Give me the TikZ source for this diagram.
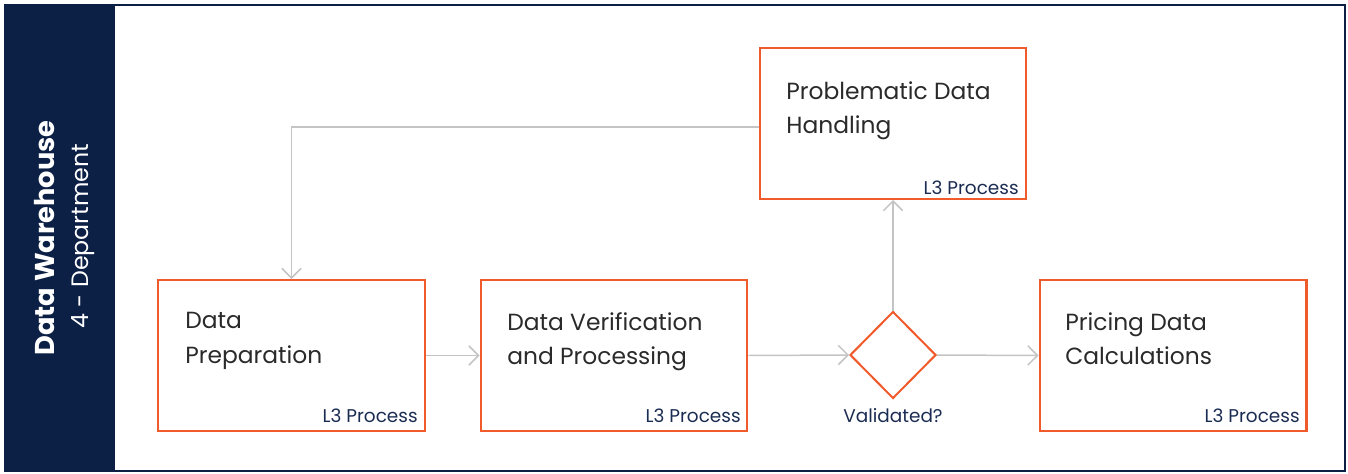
\documentclass[tikz,border=0pt]{standalone}
\usepackage{fontspec}
\setmainfont{Poppins}
\usetikzlibrary{arrows.meta,shapes.geometric,positioning}

\definecolor{navy}{HTML}{0C1F45}
\definecolor{accent}{HTML}{F15A2B}
\definecolor{wire}{HTML}{C4C4C4}
\definecolor{ink}{HTML}{2A2A2A}
\definecolor{tagink}{HTML}{1B2C52}

\tikzset{
    procbox/.style={draw=accent, line width=1.15pt, minimum width=5.34cm, minimum height=3.02cm, inner sep=0pt},
    boxtext/.style={anchor=north west, align=left, text=ink, inner sep=0pt, font=\fontsize{13.3}{19.8}\selectfont},
    tagtext/.style={anchor=base east, text=tagink, inner sep=0pt, font=\fontsize{10.5}{12}\selectfont},
    flow/.style={draw=wire, line width=0.85pt, -{Straight Barb[length=5.5pt,width=11pt]}}
}

\begin{document}
\begin{tikzpicture}[x=0.02cm, y=-0.02cm]
    \useasboundingbox (0,0) rectangle (1348,473);

    % frame and side band
    \draw[navy, line width=0.9pt] (5,5) rectangle (1345,471);
    \fill[navy] (5,5) rectangle (115,471);
    \node[rotate=90, text=white, font=\bfseries\fontsize{15.5}{20}\selectfont] (dept) at (45,238) {Data Warehouse};
    \node[rotate=90, text=white, font=\fontsize{13.5}{18}\selectfont] (deptnum) at (83,236) {4 - Department};

    % process boxes
    \node[procbox] (prep) at (291.5,355.5) {};
    \node[procbox] (verify) at (614,355.5) {};
    \node[procbox] (problem) at (893,123.5) {};
    \node[procbox] (pricing) at (1173,355.5) {};
    \node[draw=accent, line width=1.15pt, diamond, minimum width=1.72cm, minimum height=1.74cm, inner sep=0pt] (valid) at (893,355) {};

    % box texts
    \node[boxtext] (preptext) at (185,312) {Data\\Preparation};
    \node[boxtext] (verifytext) at (507,312) {Data Verification\\and Processing};
    \node[boxtext] (problemtext) at (786,81) {Problematic Data\\Handling};
    \node[boxtext] (pricingtext) at (1065,312) {Pricing Data\\Calculations};
    \node[tagtext] (preptag) at (418,422) {L3 Process};
    \node[tagtext] (verifytag) at (741,422) {L3 Process};
    \node[tagtext] (problemtag) at (1019,194) {L3 Process};
    \node[tagtext] (pricingtag) at (1300,422) {L3 Process};
    \node[anchor=base, text=tagink, inner sep=0pt, font=\fontsize{10.5}{12}\selectfont] (validtext) at (893,422) {Validated?};

    % connectors
    \draw[flow] (prep.east) -- (verify.west);
    \draw[flow] (verify.east) -- (valid.west);
    \draw[flow] (valid.east) -- (pricing.west);
    \draw[flow] (valid.north) -- (problem.south);
    \draw[flow] ([yshift=-0.07cm]problem.west) -| (prep.north);
\end{tikzpicture}
\end{document}
